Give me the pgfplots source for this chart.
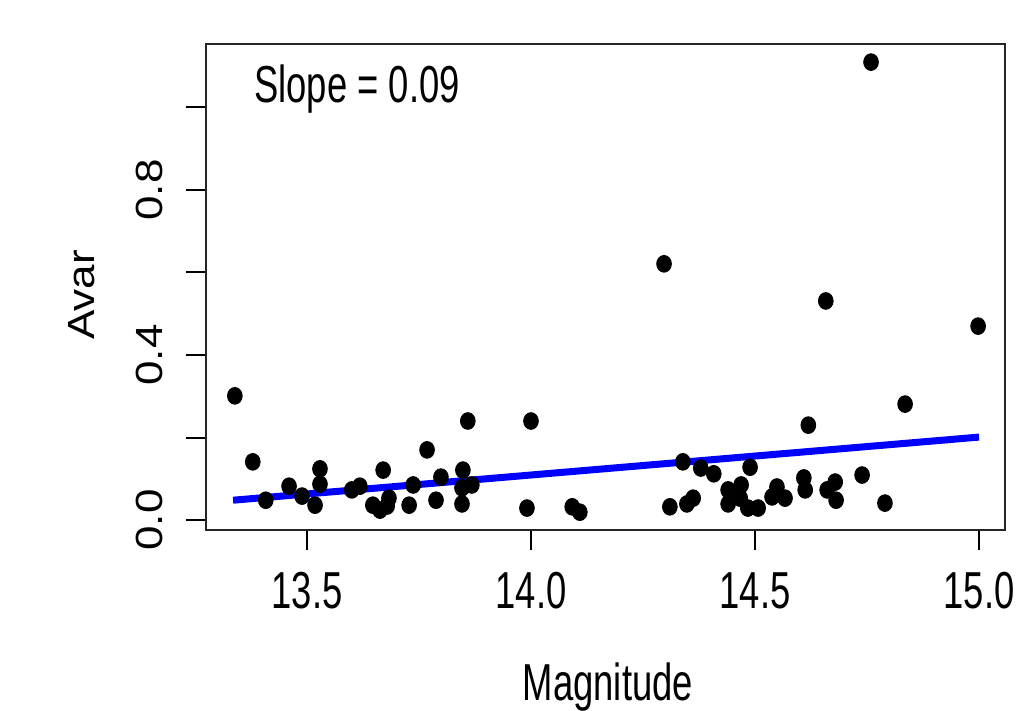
\documentclass[border=0pt]{standalone}
\usepackage{fontspec}
\setmainfont{Liberation Sans}
\usepackage{graphicx}
\usepackage{pgfplots}
\pgfplotsset{compat=1.18}
\newcommand{\hs}[1]{\scalebox{0.70}[1]{#1}}
\newcommand{\vs}[1]{\scalebox{1}[0.86]{#1}}
\pgfplotstableread{
x y
13.339 0.301
13.379 0.141
13.408 0.048
13.460 0.082
13.489 0.058
13.518 0.036
13.529 0.124
13.529 0.087
13.600 0.073
13.618 0.082
13.670 0.121
13.647 0.036
13.663 0.024
13.679 0.034
13.683 0.053
13.737 0.085
13.728 0.036
13.768 0.170
13.799 0.104
13.788 0.048
13.859 0.240
13.848 0.121
13.846 0.078
13.846 0.039
13.868 0.085
14.000 0.240
13.991 0.029
14.092 0.032
14.109 0.019
14.297 0.621
14.310 0.032
14.348 0.039
14.362 0.053
14.339 0.141
14.379 0.126
14.408 0.112
14.440 0.073
14.440 0.039
14.469 0.085
14.467 0.053
14.484 0.029
14.507 0.029
14.489 0.128
14.549 0.080
14.567 0.053
14.538 0.056
14.609 0.102
14.612 0.073
14.619 0.230
14.658 0.531
14.661 0.073
14.679 0.092
14.681 0.048
14.739 0.109
14.759 1.110
14.790 0.041
14.835 0.281
14.998 0.470
}\pts
\begin{document}
\begin{tikzpicture}
\path[use as bounding box] (-103pt,-90.5pt) rectangle (405.5pt,265pt);
\begin{axis}[
  at={(0pt,0pt)}, anchor=south west,
  scale only axis, width=399.5pt, height=243pt,
  xmin=13.2746, xmax=15.058, ymin=-0.0242, ymax=1.1539,
  axis line style={line width=1.2pt, black!85},
  tick style={line width=1pt, black},
  tick align=outside, major tick length=10pt,
  xtick pos=bottom, ytick pos=left,
  xtick={13.5,14,14.5,15},
  xticklabels={\hs{13.5},\hs{14.0},\hs{14.5},\hs{15.0}},
  ytick={0,0.2,0.4,0.6,0.8,1.0},
  yticklabels={\vs{0.0},,\vs{0.4},,\vs{0.8},},
  xticklabel style={font=\fontsize{26}{26}\selectfont, anchor=center, yshift=-20.5pt},
  yticklabel style={font=\fontsize{22}{22}\selectfont, xshift=-18.5pt, rotate=90, anchor=center},
  xlabel={\hs{Magnitude}},
  xlabel style={font=\fontsize{26}{26}\selectfont, at={(rel axis cs:0.503,0)}, anchor=base, yshift=-85pt, inner sep=0pt},
  ylabel={\vs{Avar}},
  ylabel style={font=\fontsize{22}{22}\selectfont, at={([xshift=-62.25pt]rel axis cs:0,0.4835)}, anchor=center},
]
\addplot[blue, line width=3.5pt] coordinates {(13.335,0.048) (15.0,0.201)};
\addplot[only marks, mark=*, mark size=4.2pt, mark options={fill=black, draw=black, xscale=0.88}] table[x=x,y=y] {\pts};
\node[anchor=base west, inner sep=0pt, font=\fontsize{26}{26}\selectfont] at (rel axis cs:0,1) [xshift=24pt, yshift=-29.5pt] {\hs{Slope = 0.09}};
\end{axis}
\end{tikzpicture}
\end{document}
